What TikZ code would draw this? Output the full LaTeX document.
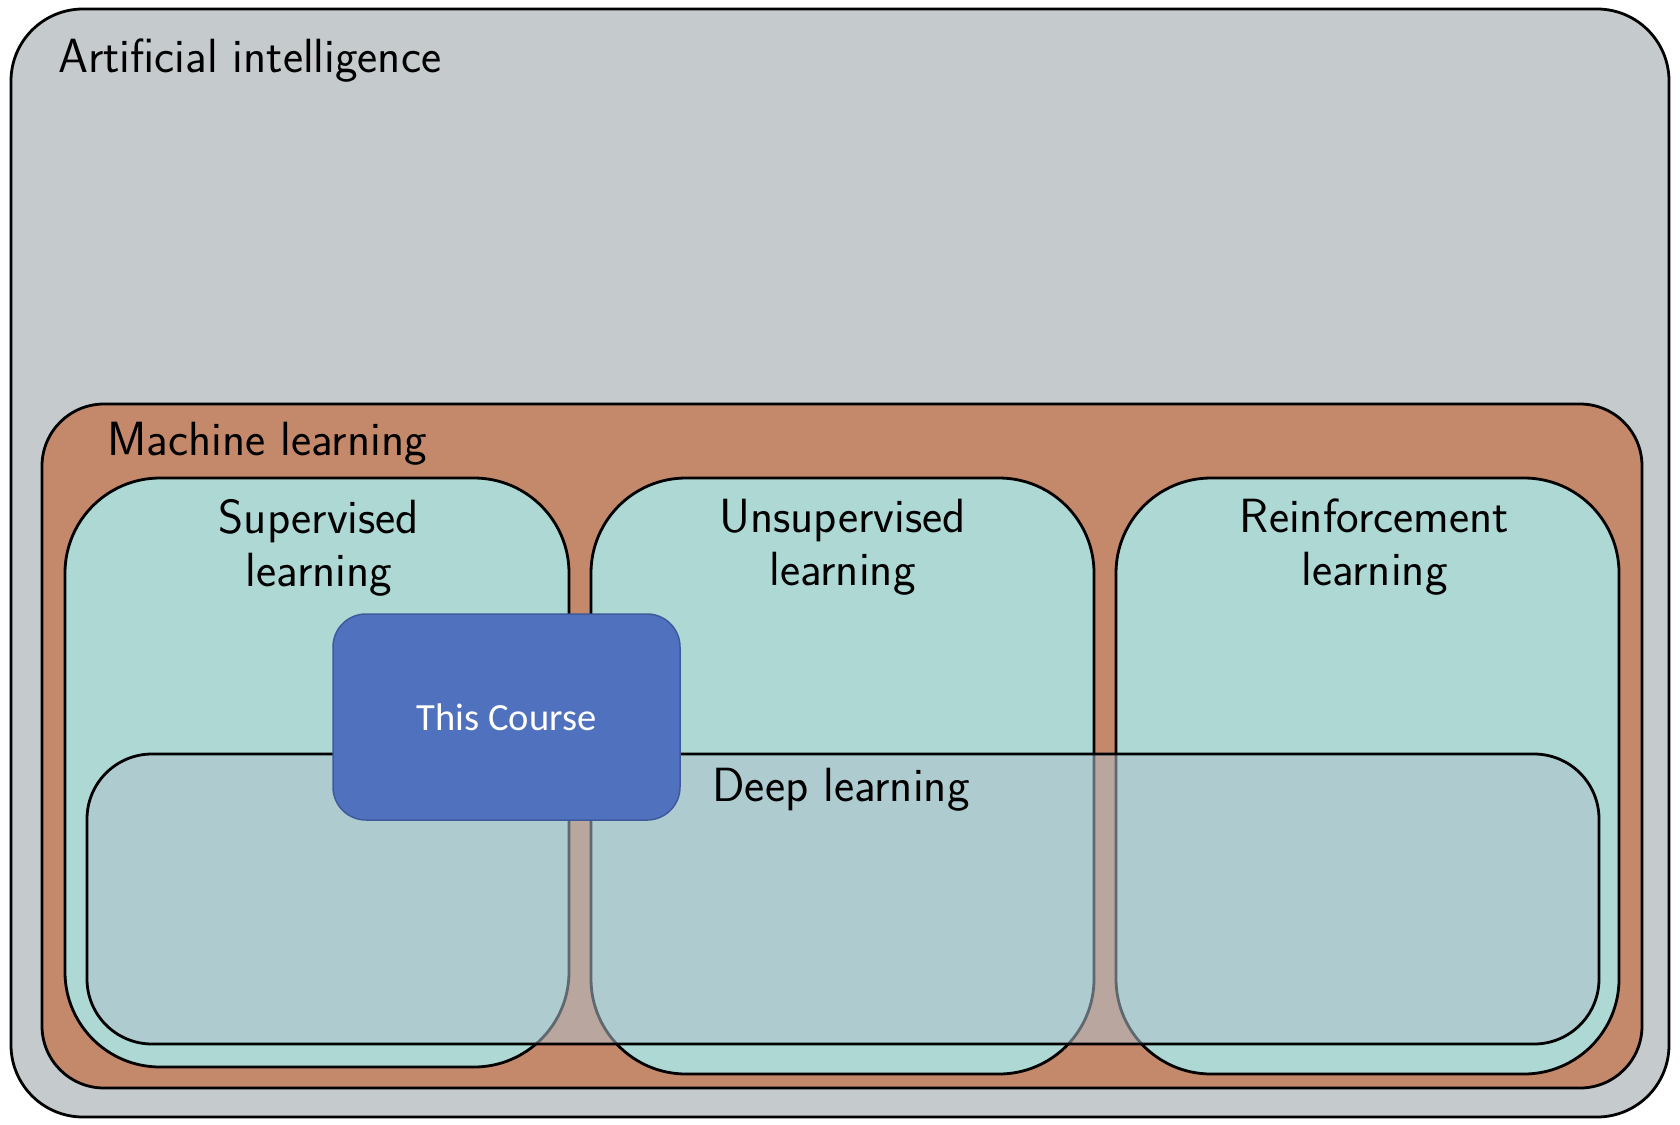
\documentclass[tikz,border=0pt]{standalone}
\usepackage{fontspec}
\newfontfamily\carlito{Carlito}
\definecolor{aigray}{RGB}{197,202,205}
\definecolor{mlorange}{RGB}{196,136,106}
\definecolor{lteal}{RGB}{173,216,212}
\definecolor{deepblue}{RGB}{176,193,204}
\definecolor{coursefill}{RGB}{80,113,190}
\definecolor{courseline}{RGB}{62,90,155}
\begin{document}
\begin{tikzpicture}[x=1pt,y=-1pt,
  area/.style={draw=black, line width=2.8pt, rectangle, inner sep=0pt, outer sep=0pt},
  lbl/.style={font=\sffamily\fontsize{48}{53}\selectfont, inner sep=0pt, align=center, text=black},
  coursebox/.style={rectangle, fill=coursefill, draw=courseline, line width=1.5pt, rounded corners=33pt,
    font=\carlito\fontsize{38.5}{44}\selectfont, text=white, inner sep=0pt}
]
\useasboundingbox (0,0) rectangle (1680,1124);
\fill[white] (0,0) rectangle (1680,1124);
\node[area, fill=aigray, rounded corners=72pt, minimum width=1658pt, minimum height=1108pt] (ai) at (840,563) {};
\node[area, fill=mlorange, rounded corners=62pt, minimum width=1600pt, minimum height=684pt] (ml) at (842,746) {};
\node[area, fill=lteal, rounded corners=95pt, minimum width=504pt, minimum height=589pt] (sup) at (317,772.5) {};
\node[area, fill=lteal, rounded corners=95pt, minimum width=503pt, minimum height=596pt] (uns) at (842.5,776) {};
\node[area, fill=lteal, rounded corners=95pt, minimum width=503pt, minimum height=596pt] (rei) at (1367.5,776) {};
\node[area, fill=deepblue, fill opacity=0.54, rounded corners=65pt, minimum width=1512pt, minimum height=290pt] (deep) at (843,899) {};

\node[lbl, anchor=base west] (ailbl) at (58,73) {Artificial intelligence};
\node[lbl, anchor=base west] (mllbl) at (107,455) {Machine learning};
\node[lbl, anchor=north] (suplbl) at ([xshift=2pt,yshift=-21pt]sup.north) {Supervised\\learning};
\node[lbl, anchor=north] (unslbl) at ([yshift=-21pt]uns.north) {Unsupervised\\learning};
\node[lbl, anchor=north] (reilbl) at ([xshift=7pt,yshift=-21pt]rei.north) {Reinforcement\\learning};
\node[lbl, anchor=base] (deeplbl) at (841,801) {Deep learning};

\node[coursebox, minimum width=347pt, minimum height=206pt] (course) at (506.5,717) {This Course};
\end{tikzpicture}
\end{document}
